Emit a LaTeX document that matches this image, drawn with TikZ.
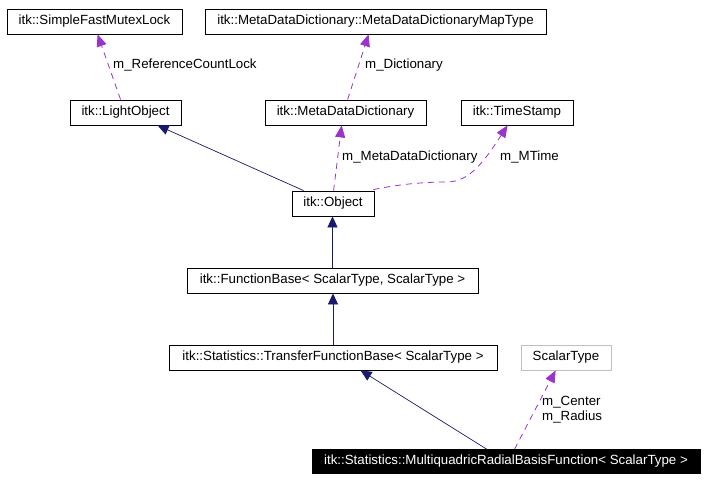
\documentclass[tikz,border=0pt]{standalone}
\usepackage{fontspec}
\setmainfont{Liberation Sans}
\usetikzlibrary{arrows.meta,calc}
\definecolor{inh}{HTML}{191970}
\definecolor{usecol}{HTML}{9A32CD}
\definecolor{greyb}{HTML}{BFBFBF}
\begin{document}
\begin{tikzpicture}[x=1pt,y=-1pt,
  box/.style={draw=black,line width=0.8pt,fill=white,minimum height=25pt,inner sep=0pt,font=\fontsize{13.3}{15}\selectfont},
  inharrow/.style={draw=inh,line width=0.7pt,-{Triangle[length=11pt,width=10pt,fill=inh]}},
  usearrow/.style={draw=usecol,line width=0.8pt,dash pattern=on 6pt off 5pt,-{Triangle[length=12pt,width=10pt,fill=usecol]}},
  lbl/.style={font=\fontsize{13.3}{15}\selectfont,inner sep=0pt,anchor=west}]
\useasboundingbox[fill=white] (0,0) rectangle (708,482);
\node[box,minimum width=175pt] (mutex) at (94.5,21.5) {itk::SimpleFastMutexLock};
\node[box,minimum width=341pt] (mapt) at (375.5,21.5) {itk::MetaDataDictionary::MetaDataDictionaryMapType};
\node[box,minimum width=111pt] (light) at (125.5,112.5) {itk::LightObject};
\node[box,minimum width=161pt] (mdd) at (345.5,112.5) {itk::MetaDataDictionary};
\node[box,minimum width=112pt] (ts) at (517,112.5) {itk::TimeStamp};
\node[box,minimum width=82pt] (obj) at (333,203.5) {itk::Object};
\node[box,minimum width=291pt] (fb) at (332.5,280.5) {itk::FunctionBase< ScalarType, ScalarType >};
\node[box,minimum width=328pt] (tfb) at (333,357.5) {itk::Statistics::TransferFunctionBase< ScalarType >};
\node[box,draw=greyb,minimum width=90pt] (st) at (566,357.5) {ScalarType};
\node[box,fill=black,text=white,minimum width=388pt,minimum height=24pt] (mq) at (506,461.5) {itk::Statistics::MultiquadricRadialBasisFunction< ScalarType >};
% inheritance
\draw[inharrow] ($(obj.north west)+(12,0)$) -- ($(light.south west)+(88,0)$);
\draw[inharrow] (fb.north) -- (fb.north |- obj.south);
\draw[inharrow] (tfb.north) -- (tfb.north |- fb.south);
\draw[inharrow] ($(mq.north west)+(175,0)$) -- ($(tfb.south west)+(192,0)$);
% usage
\draw[usearrow] ($(light.north west)+(51,0)$) -- ($(mutex.south west)+(91,0)$);
\draw[usearrow] ($(mdd.north west)+(83,0)$) -- ($(mapt.south west)+(164,0)$);
\draw[usearrow] ($(obj.north west)+(42,0)$) -- ($(mdd.south west)+(77,0)$);
\draw[usearrow] ($(obj.north east)+(-1,-1)$) .. controls (400,184) and (425,182) .. (447,182) .. controls (470,182) and (485,160) .. ($(ts.south west)+(47,0)$);
\draw[usearrow] ($(mq.north west)+(203,0)$) -- ($(st.south west)+(35,0)$);
% labels
\node[lbl] (l1) at (113,65) {m\_ReferenceCountLock};
\node[lbl] (l2) at (365,65) {m\_Dictionary};
\node[lbl] (l3) at (342,157) {m\_MetaDataDictionary};
\node[lbl] (l4) at (500,157) {m\_MTime};
\node[lbl,align=left] (l5) at (542,409.5) {m\_Center\\m\_Radius};
\end{tikzpicture}
\end{document}
